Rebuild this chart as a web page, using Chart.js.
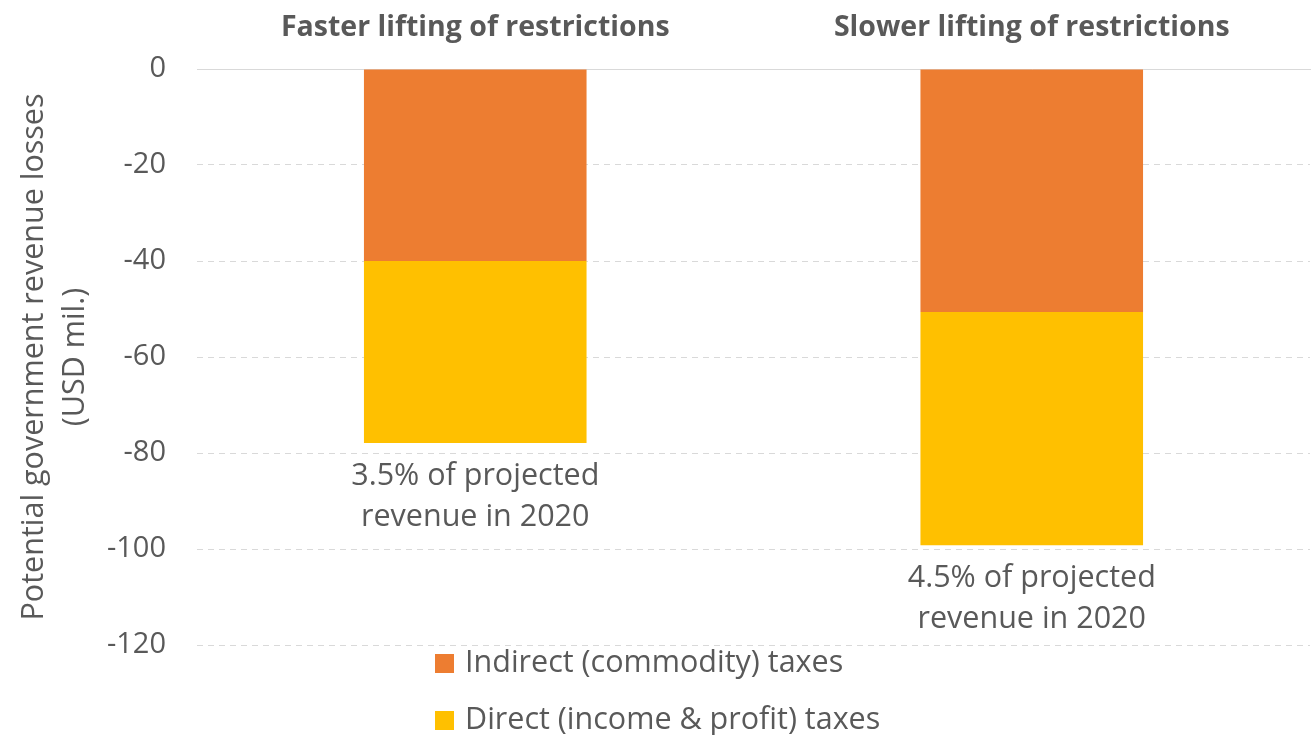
<!DOCTYPE html>
<html>
<head>
<meta charset="utf-8">
<script src="https://cdn.jsdelivr.net/npm/chart.js@4/dist/chart.umd.min.js"></script>
<style>
  html, body { margin: 0; padding: 0; background: #ffffff; }
  #wrap { position: relative; width: 1314px; height: 735px; }
</style>
</head>
<body>
<div id="wrap"><canvas id="chart" width="1314" height="735"></canvas></div>
<script>
// Scenarios and revenue losses (USD mil.)
const scenarios = ['Faster lifting of restrictions', 'Slower lifting of restrictions'];
const indirectTaxes = [-40.0, -50.6];
const directTaxes = [-37.9, -48.6];
const shareNotes = [
  ['3.5% of projected', 'revenue in 2020'],
  ['4.5% of projected', 'revenue in 2020']
];
const seriesNames = ['Indirect (commodity) taxes', 'Direct (income & profit) taxes'];
const yTicks = [0, -20, -40, -60, -80, -100, -120];

const FONT = "'Open Sans', 'Liberation Sans', sans-serif";
const GREY = '#595959';
const ORANGE = '#ED7D31';
const GOLD = '#FFC000';

// Notes under each stacked bar, anchored to the bar's lower end
const notesPlugin = {
  id: 'shareNotes',
  afterDatasetsDraw(chart) {
    const ctx = chart.ctx;
    const metas = chart.data.datasets.map((d, i) => chart.getDatasetMeta(i));
    ctx.save();
    ctx.font = `30.5px ${FONT}`;
    ctx.fillStyle = GREY;
    ctx.textAlign = 'center';
    ctx.textBaseline = 'middle';
    scenarios.forEach((s, i) => {
      let bottom = -Infinity, x = 0;
      metas.forEach(m => {
        const el = m.data[i];
        bottom = Math.max(bottom, el.y, el.base);
        x = el.x;
      });
      shareNotes[i].forEach((line, k) => {
        ctx.fillText(line, x, bottom + 33 + k * 41);
      });
    });
    ctx.restore();
  }
};

// Vertical legend under the plot
const legendPlugin = {
  id: 'stackLegend',
  afterDraw(chart) {
    const ctx = chart.ctx;
    ctx.save();
    ctx.font = `30.5px ${FONT}`;
    ctx.textBaseline = 'middle';
    ctx.textAlign = 'left';
    chart.data.datasets.forEach((ds, i) => {
      const y = 663 + i * 57;
      ctx.fillStyle = ds.backgroundColor;
      ctx.fillRect(435, y - 9, 19, 19);
      ctx.fillStyle = GREY;
      ctx.fillText(ds.label, 465, y);
    });
    ctx.restore();
  }
};

new Chart(document.getElementById('chart'), {
  type: 'bar',
  data: {
    labels: scenarios,
    datasets: [
      { label: seriesNames[0], data: indirectTaxes, backgroundColor: ORANGE },
      { label: seriesNames[1], data: directTaxes, backgroundColor: GOLD }
    ]
  },
  options: {
    responsive: false,
    animation: false,
    devicePixelRatio: 1,
    layout: { padding: { top: 0, right: 4, bottom: 90, left: 0 } },
    datasets: { bar: { barPercentage: 0.4, categoryPercentage: 1.0 } },
    plugins: {
      legend: { display: false },
      tooltip: { enabled: false }
    },
    scales: {
      x: {
        position: 'top',
        stacked: true,
        grid: { display: false, drawTicks: false },
        border: { display: true, color: '#D9D9D9', width: 1 },
        ticks: {
          color: GREY,
          font: { family: FONT, size: 28.5, weight: 'bold' },
          padding: 24
        },
        afterFit(scale) { scale.height = 69; }
      },
      y: {
        stacked: true,
        min: -120,
        max: 0,
        afterBuildTicks(scale) { scale.ticks = yTicks.map(v => ({ value: v })); },
        grid: { color: '#D9D9D9', lineWidth: 1, drawTicks: false },
        border: { display: false, dash: [6, 5] },
        ticks: {
          color: GREY,
          font: { family: FONT, size: 29 },
          padding: 31
        },
        title: {
          display: true,
          text: ['Potential government revenue losses', '(USD mil.)'],
          color: GREY,
          font: { family: FONT, size: 30.5, lineHeight: 1.35 },
          padding: { top: 14, bottom: 0 }
        },
        afterFit(scale) { scale.width = 197; }
      }
    }
  },
  plugins: [notesPlugin, legendPlugin]
});
</script>
</body>
</html>
